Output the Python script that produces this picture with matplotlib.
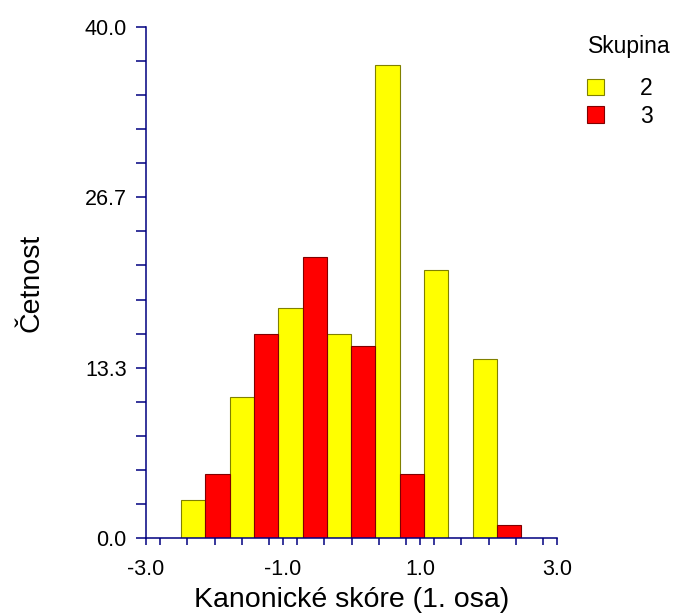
import numpy as np
import matplotlib
matplotlib.use("Agg")
import matplotlib.pyplot as plt
from matplotlib.ticker import MultipleLocator, FixedLocator, FormatStrFormatter

# counts per bin (7 bins across the canonical score range)
group_labels = ["2", "3"]
counts_g2 = [3, 11, 18, 16, 37, 21, 14]
counts_g3 = [5, 16, 22, 15, 5, 0, 1]
y_ticks = [0.0, 13.3, 26.7, 40.0]
x_ticks = [-3.0, -1.0, 1.0, 3.0]

plt.rcParams['font.family'] = ['Liberation Sans', 'DejaVu Sans']

axis_col = '#000080'

fig = plt.figure(figsize=(6.77, 6.15), dpi=100)
ax = fig.add_axes([146 / 677, 1 - 538 / 615, 411 / 677, 511 / 615])

# bin layout
bin_start = -2.49
bin_width = 0.71
edges = bin_start + bin_width * np.arange(len(counts_g2))
half = bin_width / 2

ax.bar(edges, counts_g2, width=half, align='edge', color='#ffff00',
       edgecolor='#808000', linewidth=0.8, label=group_labels[0])
ax.bar(edges + half, counts_g3, width=half, align='edge', color='#ff0000',
       edgecolor='#800000', linewidth=0.8, label=group_labels[1])

ax.set_xlim(-3, 3)
ax.set_ylim(0, 40)

for s in ['top', 'right']:
    ax.spines[s].set_visible(False)
for s in ['left', 'bottom']:
    ax.spines[s].set_color(axis_col)
    ax.spines[s].set_linewidth(1.1)

ax.xaxis.set_major_locator(FixedLocator(x_ticks))
ax.xaxis.set_minor_locator(MultipleLocator(0.4))
ax.xaxis.set_major_formatter(FormatStrFormatter('%.1f'))
ax.yaxis.set_major_locator(FixedLocator([0, 40 / 3, 80 / 3, 40]))
ax.yaxis.set_minor_locator(MultipleLocator(40 / 15))
ax.set_yticklabels([f"{v:.1f}" for v in y_ticks])

ax.tick_params(axis='x', which='both', direction='out', length=5,
               width=1.1, color=axis_col, labelsize=15.5, pad=10)
ax.tick_params(axis='y', which='both', direction='out', length=7,
               width=1.1, color=axis_col, labelsize=15.5, pad=7)

ax.set_xlabel("Kanonické skóre (1. osa)", fontsize=20.5, labelpad=5)
ax.set_ylabel("Četnost", fontsize=20.5, labelpad=29)

# legend title drawn separately so the gap to the entries can match
fig.text(588 / 677, 1 - 47 / 615, "Skupina", fontsize=16.5,
         ha='left', va='center')
leg = ax.legend(loc='upper left',
                bbox_to_anchor=(587 / 677, 1 - 77 / 615),
                bbox_transform=fig.transFigure, frameon=False,
                fontsize=16.5,
                handlelength=0.72, handleheight=0.72, handletextpad=1.6,
                labelspacing=0.2, borderaxespad=0, borderpad=0)

fig.savefig("out.png", dpi=100)
